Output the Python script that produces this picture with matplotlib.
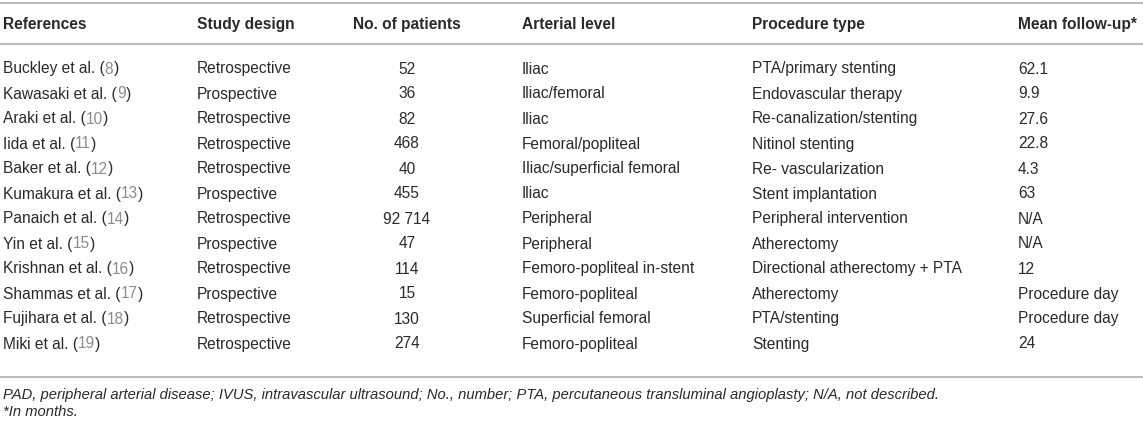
import matplotlib
matplotlib.use("Agg")
import matplotlib.pyplot as plt

plt.rcParams['font.family'] = ['Liberation Sans', 'DejaVu Sans']

headers = ["References", "Study design", "No. of patients", "Arterial level",
           "Procedure type", "Mean follow-up*"]
authors = ["Buckley et al.", "Kawasaki et al.", "Araki et al.", "Iida et al.",
           "Baker et al.", "Kumakura et al.", "Panaich et al.", "Yin et al.",
           "Krishnan et al.", "Shammas et al.", "Fujihara et al.", "Miki et al."]
ref_nums = ["8", "9", "10", "11", "12", "13", "14", "15", "16", "17", "18", "19"]
designs = ["Retrospective", "Prospective", "Retrospective", "Retrospective",
           "Retrospective", "Prospective", "Retrospective", "Prospective",
           "Retrospective", "Prospective", "Retrospective", "Retrospective"]
patients = ["52", "36", "82", "468", "40", "455", "92 714", "47", "114", "15",
            "130", "274"]
arterial = ["Iliac", "Iliac/femoral", "Iliac", "Femoral/popliteal",
            "Iliac/superficial femoral", "Iliac", "Peripheral", "Peripheral",
            "Femoro-popliteal in-stent", "Femoro-popliteal", "Superficial femoral",
            "Femoro-popliteal"]
procedures = ["PTA/primary stenting", "Endovascular therapy",
              "Re-canalization/stenting", "Nitinol stenting",
              "Re- vascularization", "Stent implantation",
              "Peripheral intervention", "Atherectomy",
              "Directional atherectomy + PTA", "Atherectomy", "PTA/stenting",
              "Stenting"]
followup = ["62.1", "9.9", "27.6", "22.8", "4.3", "63", "N/A", "N/A", "12",
            "Procedure day", "Procedure day", "24"]
footnote1 = ("PAD, peripheral arterial disease; IVUS, intravascular ultrasound; "
             "No., number; PTA, percutaneous transluminal angioplasty; N/A, not described.")
footnote2 = "*In months."

W, H = 1143, 422
fig = plt.figure(figsize=(W / 100, H / 100), dpi=100)
ax = fig.add_axes([0, 0, 1, 1])
ax.set_xlim(0, W)
ax.set_ylim(H, 0)
ax.axis('off')

txt = '#2a2a2a'
gray = '#8c8c8c'
line_c = '#b4b4b4'
fs = 11.2
base_off = 5.5   # baseline below visual centre of capitals

col_x = [3, 197, 407, 522, 752, 1018]
col_ha = ['left', 'left', 'center', 'left', 'left', 'left']

for y in (3, 44, 377):
    ax.plot([0, W], [y, y], color=line_c, lw=1.3, solid_capstyle='butt')

hy = 23.5 + base_off
for h, x, ha in zip(headers, col_x, col_ha):
    ax.text(x, hy, h, ha=ha, va='baseline', fontsize=fs, fontweight='bold', color=txt)

y0, dy = 68, 25.0
for i in range(len(authors)):
    y = y0 + i * dy + base_off
    t1 = ax.text(col_x[0], y, authors[i] + " (", ha='left', va='baseline',
                 fontsize=fs, color=txt)
    t2 = ax.annotate(ref_nums[i], xy=(1, 0), xycoords=t1, ha='left', va='bottom',
                     fontsize=fs, color=gray)
    ax.annotate(")", xy=(1, 0), xycoords=t2, ha='left', va='bottom',
                fontsize=fs, color=txt)
    row = [designs[i], patients[i], arterial[i], procedures[i], followup[i]]
    for val, x, ha in zip(row, col_x[1:], col_ha[1:]):
        ax.text(x, y, val, ha=ha, va='baseline', fontsize=fs, color=txt)

ax.text(3, 394 + base_off, footnote1, ha='left', va='baseline', fontsize=fs * 0.95,
        style='italic', color=txt)
ax.text(3, 411 + base_off, footnote2, ha='left', va='baseline', fontsize=fs * 0.95,
        style='italic', color=txt)

fig.savefig("out.png", dpi=100)
